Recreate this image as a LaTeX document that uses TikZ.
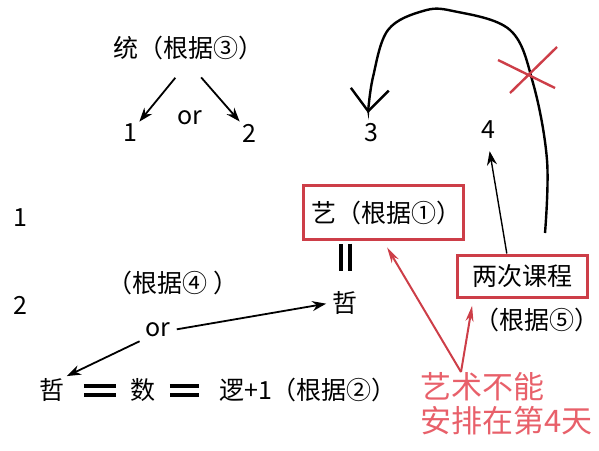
\documentclass[tikz,border=0pt]{standalone}
\usepackage{fontspec}
\setmainfont{Noto Sans CJK SC}
\usetikzlibrary{arrows.meta}
\definecolor{boxred}{RGB}{205,62,72}
\definecolor{txtred}{RGB}{232,96,106}
\begin{document}
\begin{tikzpicture}[x=0.5pt,y=-0.5pt,
        txt/.style={inner sep=1pt,font=\fontsize{12.5}{14}\selectfont},
        red box/.style={txt,draw=boxred,line width=1.5pt},
        blk arrow/.style={-{Stealth[length=7pt,width=5pt]},line width=.9pt},
        red arrow/.style={draw=boxred,-{Stealth[length=8pt,width=4pt]},line width=1pt},
        eq line/.style={double,double distance=2.5pt,line width=2pt}]
        \useasboundingbox (0,0) rectangle (599,450);

        % top row
        \node[txt] (tong) at (188,48) {统（根据③）};
        \node[txt] (or1)  at (190,118) {or};
        \node[txt] (one)  at (130,133) {1};
        \node[txt] (two)  at (249,133) {2};
        \node[txt] (three) at (371,133) {3};
        \node[txt] (four) at (488,130) {4};
        \draw[blk arrow,shorten <=10pt] (tong.south) -- (one.north east);
        \draw[blk arrow,shorten <=10pt] (tong.south) -- (two.north west);

        % left numbers
        \node[txt] (rowa) at (20,218) {1};
        \node[txt] (rowb) at (20,305) {2};

        % boxes
        \node[red box,minimum width=80pt,minimum height=27pt,text depth=0pt,align=right,text width=72pt] (yi) at (383,212) {艺（根据①）};
        \node[txt] (zhe) at (345,303) {哲};
        \draw[eq line,shorten <=1.5pt,shorten >=9pt] (yi.south -| zhe) -- (zhe.north);
        \node[red box,minimum width=65pt,minimum height=21pt] (liangci) at (522,276) {两次课程};
        \node[txt] (gen5) at (537,320) {（根据⑤）};
        \draw[blk arrow,line width=.7pt,shorten >=5pt] (liangci.124) -- (four.south);

        % curve back to 3
        \coordinate (cstart) at (545,233);
        \coordinate (cend) at (368,113);
        \draw[line width=1.2pt,-{Straight Barb[length=11pt,width=19pt,line width=1.2pt]}]
          plot[smooth,tension=.6] coordinates {(cstart) (547,160) (533,83) (510,30) (453,11) (423,11) (388,30) (373,77) (cend)};
        \draw[boxred,line width=1.2pt] (498,60) -- (555,88) (510,93) -- (557,47);

        % row 2
        \node[txt] (gen4) at (173,283) {（根据④ ）};
        \node[txt] (or2)  at (158,330) {or};
        \draw[blk arrow,shorten <=2pt,shorten >=2pt] (or2.east) -- (zhe.west);

        % bottom row
        \node[txt] (zhe2) at (52,390) {哲};
        \node[txt] (shu)  at (143,390) {数};
        \node[txt] (luo)  at (308,390) {逻+1（根据②）};
        \draw[blk arrow,shorten <=2pt] (or2.south west) -- (zhe2.north east);
        \draw[eq line,shorten <=8.5pt,shorten >=6pt] (zhe2.east) -- (shu.west);
        \draw[eq line,shorten <=6pt,shorten >=9pt] (shu.east) -- (luo.west);

        % red note
        \coordinate (redtip) at (461,372);
        \draw[red arrow,shorten >=4pt] (redtip) -- (yi.south);
        \draw[red arrow] (redtip) -- (gen5.north west);
        \node[txt,text=txtred,anchor=west,align=left,font=\fontsize{15.5}{17}\selectfont] (note) at (418,404) {艺术不能\\安排在第4天};
      \end{tikzpicture}
\end{document}
